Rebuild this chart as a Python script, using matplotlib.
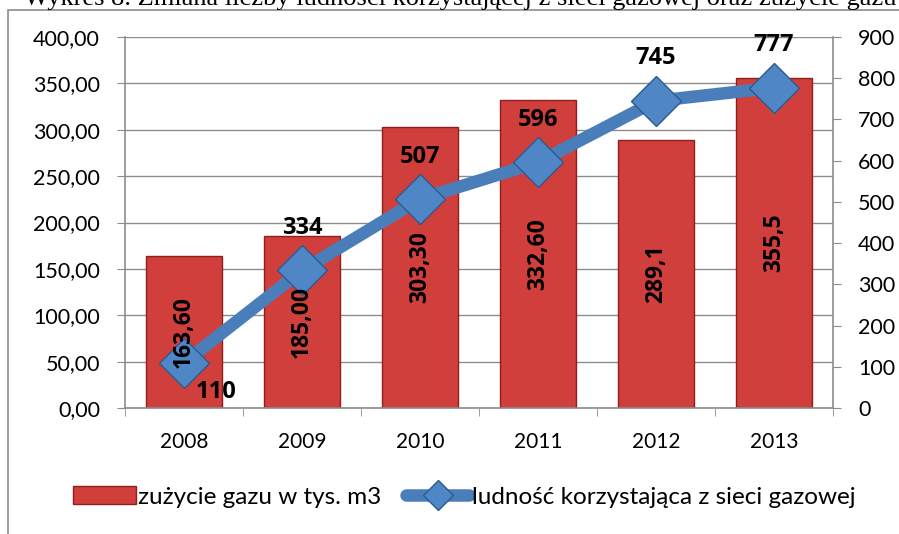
import numpy as np
import matplotlib.pyplot as plt
from matplotlib.patches import Rectangle
from matplotlib.lines import Line2D

years = ["2008", "2009", "2010", "2011", "2012", "2013"]
gas_use = [163.6, 185.0, 303.3, 332.6, 289.1, 355.5]
gas_labels = ["163,60", "185,00", "303,30", "332,60", "289,1", "355,5"]
people = [110, 334, 507, 596, 745, 777]

left_ticks = [0, 50, 100, 150, 200, 250, 300, 350, 400]
right_ticks = [0, 100, 200, 300, 400, 500, 600, 700, 800, 900]

plt.rcParams['font.family'] = ['Lato', 'DejaVu Sans']
bold_font = ['Open Sans', 'DejaVu Sans']

W, H = 899, 534
fig = plt.figure(figsize=(W / 100, H / 100), dpi=100)

# outer frame of the chart (runs off the right/bottom edge)
fig.patches.append(Rectangle((8 / W, -0.1), 1.2, 1 - 10 / H + 0.1,
                             transform=fig.transFigure, fill=False,
                             edgecolor='#8c8c8c', linewidth=1.2))

# caption above the chart, cut off by the top edge as in the source
fig.text(24 / W, 1 - 5 / H,
         "Wykres 8. Zmiana liczby ludności korzystającej z sieci gazowej oraz zużycie gazu",
         family='Liberation Serif', fontsize=19, va='baseline', ha='left')

ax = fig.add_axes([125 / W, 1 - 408 / H, (833 - 125) / W, (408 - 37) / H])
x = np.arange(len(years))

ax.bar(x, gas_use, width=0.64, color='#d03f3b', edgecolor='#8e1f1d',
       linewidth=1.0, zorder=2)

ax.set_xlim(-0.5, 5.5)
ax.set_ylim(0, 400)
ax.set_yticks(left_ticks)
ax.set_yticklabels([f"{t:.2f}".replace('.', ',') for t in left_ticks])
ax.set_xticks(x)
ax.set_xticklabels(years)
ax.set_xticks(np.arange(-0.5, 6, 1), minor=True)
ax.tick_params(axis='x', which='major', length=0, pad=17, labelsize=15)
ax.tick_params(axis='x', which='minor', length=6, color='#8c8c8c')
ax.tick_params(axis='y', length=6, color='#8c8c8c', labelsize=15.5, pad=12)
ax.grid(axis='y', color='#8c8c8c', linewidth=1.0, zorder=0)
ax.set_axisbelow(True)
for s in ['top', 'right']:
    ax.spines[s].set_visible(False)
for s in ['left', 'bottom']:
    ax.spines[s].set_color('#8c8c8c')
    ax.spines[s].set_linewidth(1.2)

ax2 = ax.twinx()
ax2.plot(x, people, color='#4a7ebb', linewidth=9, marker='D', markersize=25,
         markerfacecolor='#4f86c6', markeredgecolor='#2c5a8f',
         markeredgewidth=1.0, solid_capstyle='butt', zorder=3)
ax2.set_ylim(0, 900)
ax2.set_yticks(right_ticks)
ax2.tick_params(axis='y', length=6, color='#8c8c8c', labelsize=15.5, pad=12)
for s in ['top', 'left', 'bottom']:
    ax2.spines[s].set_visible(False)
ax2.spines['right'].set_color('#8c8c8c')
ax2.spines['right'].set_linewidth(1.2)

# bar labels drawn on the top axes so they sit above the line
for xi, v, lab in zip(x, gas_use, gas_labels):
    ax2.text(xi, v / 2, lab, transform=ax.transData, rotation=90,
             ha='center', va='center', fontsize=16.5, fontweight='bold',
             family=bold_font, zorder=5)

for i, (xi, v) in enumerate(zip(x, people)):
    if i == 0:
        ax2.text(xi + 0.27, v - 72, str(v), ha='center', va='center',
                 fontsize=17, fontweight='bold', family=bold_font, zorder=5)
    else:
        ax2.text(xi, v + 103, str(v), ha='center', va='center',
                 fontsize=17, fontweight='bold', family=bold_font, zorder=5)

handles = [Rectangle((0, 0), 1, 1, facecolor='#d03f3b', edgecolor='#8e1f1d'),
           Line2D([], [], color='#4a7ebb', linewidth=9, marker='D',
                  markersize=15, markerfacecolor='#4f86c6',
                  markeredgecolor='#2c5a8f', solid_capstyle='round')]
fig.legend(handles, ["zużycie gazu w tys. m3", "ludność korzystająca z sieci gazowej"],
           loc='center', bbox_to_anchor=(464 / W, 1 - 497 / H), ncol=2,
           frameon=False, fontsize=17.5, handlelength=2.6, handleheight=0.7,
           handletextpad=0.1, columnspacing=1.0)

fig.savefig("out.png", dpi=100)
